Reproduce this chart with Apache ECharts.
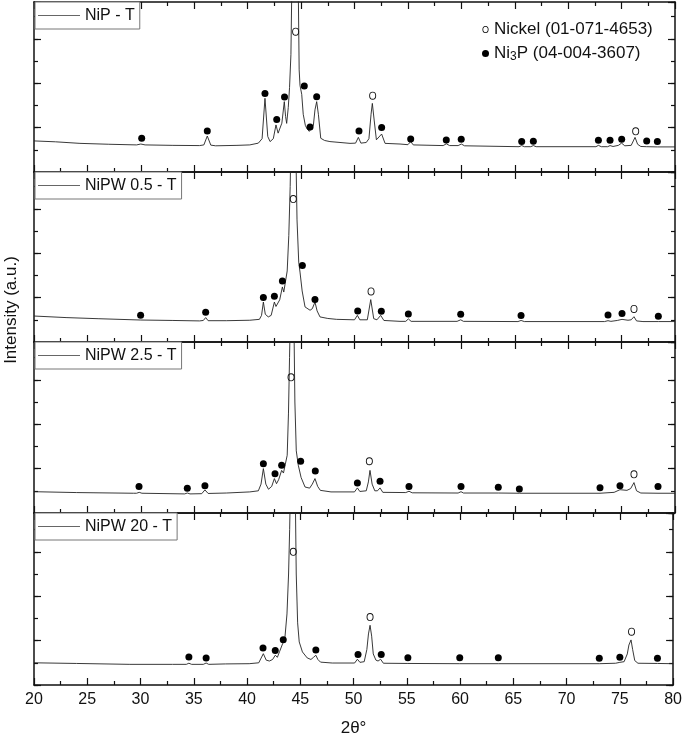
<!DOCTYPE html>
<html>
<head>
<meta charset="utf-8">
<script src="https://cdn.jsdelivr.net/npm/echarts@6/dist/echarts.min.js"></script>
<style>
  html, body { margin: 0; padding: 0; background: #fff; }
  #xrdChart { width: 685px; height: 738px; }
</style>
</head>
<body>
<div id="xrdChart"></div>
<script>
// sample names, top to bottom
var sampleNames = ['NiP - T', 'NiPW 0.5 - T', 'NiPW 2.5 - T', 'NiPW 20 - T'];
var xTicks = [20, 25, 30, 35, 40, 45, 50, 55, 60, 65, 70, 75, 80];

// diffractograms: [2theta, intensity a.u.]
var nipT = [[20,1.40],[22,1.36],[24.3,1.29],[27,1.25],[29.6,1.22],[30.0,1.26],[30.4,1.22],[33,1.20],[35.5,1.19],[35.9,1.22],[36.22,1.62],[36.55,1.21],[37,1.18],[39,1.20],[40.2,1.22],[41.0,1.30],[41.35,1.5],[41.62,3.32],[41.88,1.6],[42.1,1.37],[42.4,1.5],[42.65,2.12],[42.85,1.75],[43.03,1.67],[43.2,2.2],[43.43,3.17],[43.55,2.5],[43.65,2.19],[43.8,2.9],[43.92,3.8],[44.05,5.3],[44.15,9],[44.43,30],[44.72,9],[44.82,4.6],[44.9,3.9],[45.06,3.5],[45.2,2.6],[45.4,2.1],[45.55,1.95],[45.77,1.83],[45.95,1.8],[46.15,2.1],[46.3,2.8],[46.46,3.17],[46.62,2.6],[46.84,1.52],[47.2,1.42],[47.7,1.37],[49.58,1.29],[50.1,1.3],[50.36,1.56],[50.6,1.3],[51.1,1.33],[51.35,1.5],[51.55,2.6],[51.67,3.09],[51.85,2.3],[52.05,1.45],[52.2,1.4],[52.54,1.71],[52.86,1.29],[54.26,1.26],[55.0,1.23],[55.26,1.37],[55.5,1.22],[58.3,1.19],[58.6,1.27],[58.9,1.19],[59.7,1.19],[60.0,1.26],[60.3,1.18],[65.4,1.14],[65.65,1.19],[65.9,1.14],[66.5,1.14],[66.74,1.19],[67,1.14],[72.6,1.14],[72.83,1.2],[73.1,1.14],[73.7,1.14],[73.92,1.19],[74.2,1.15],[74.7,1.2],[75.0,1.3],[75.3,1.18],[75.9,1.2],[76.1,1.4],[76.26,1.56],[76.5,1.25],[76.8,1.15],[77.35,1.14],[78.35,1.13],[80,1.13]];
var nipw05T = [[20,1.17],[23,1.10],[26,1.05],[30,0.99],[33,0.97],[35.5,0.95],[35.85,0.97],[36.07,1.10],[36.3,0.96],[38,0.96],[40.2,0.98],[41.1,1.02],[41.3,1.2],[41.47,1.80],[41.65,1.25],[41.93,1.13],[42.2,1.2],[42.5,1.80],[42.65,1.6],[42.78,1.53],[43.0,1.9],[43.25,2.48],[43.38,2.25],[43.5,2.18],[43.7,3.2],[43.85,4.8],[43.98,7.0],[44.05,9],[44.25,35],[44.5,9],[44.62,5.5],[44.78,3.6],[44.9,3.15],[45.1,2.3],[45.37,1.58],[45.84,1.43],[46.05,1.5],[46.3,1.80],[46.5,1.4],[46.77,1.13],[47.5,1.06],[48.33,1.02],[50.0,1.0],[50.27,1.20],[50.5,1.0],[51.2,1.0],[51.52,1.91],[51.8,1.05],[52.1,1.0],[52.45,1.20],[52.75,0.97],[54.26,0.93],[54.8,0.93],[55.04,1.04],[55.3,0.93],[59.6,0.93],[59.94,1.0],[60.2,0.93],[65.3,0.92],[65.59,0.97],[65.9,0.92],[73.4,0.92],[73.73,0.96],[74.0,0.93],[74.6,0.97],[75.04,1.02],[75.6,0.98],[75.9,1.0],[76.16,1.14],[76.4,0.95],[77,0.92],[78.44,0.92],[80,0.92]];
var nipw25T = [[20,0.96],[24,0.92],[29.3,0.89],[29.6,0.89],[29.85,0.93],[30.1,0.89],[34.1,0.86],[34.35,0.9],[34.6,0.86],[35.7,0.87],[36.0,1.04],[36.3,0.88],[38,0.9],[40.2,0.95],[41.0,1.0],[41.25,1.3],[41.47,2.00],[41.7,1.3],[41.95,1.07],[42.25,1.2],[42.5,1.55],[42.7,1.32],[42.9,1.5],[43.18,1.92],[43.35,1.8],[43.5,1.77],[43.7,2.6],[43.82,4.5],[43.92,7.0],[44.0,9],[44.12,35],[44.32,9],[44.42,5.0],[44.55,2.8],[44.74,2.15],[45.0,1.6],[45.37,1.17],[45.8,1.12],[46.05,1.3],[46.3,1.55],[46.55,1.2],[46.8,1.02],[47.8,0.95],[50.0,0.95],[50.27,1.13],[50.5,0.97],[51.1,1.0],[51.3,1.4],[51.45,1.92],[51.65,1.3],[51.9,1.0],[52.15,1.0],[52.39,1.13],[52.65,0.93],[54.8,0.92],[55.1,0.98],[55.4,0.91],[59.7,0.9],[59.97,0.96],[60.2,0.9],[63.46,0.9],[65.43,0.89],[72.98,0.89],[74.3,0.93],[74.85,1.05],[75.5,1.02],[75.85,1.1],[76.16,1.37],[76.4,1.0],[76.8,0.9],[78.41,0.89],[80,0.89]];
var nipw20T = [[20,1.0],[24,0.97],[29,0.93],[33,0.93],[34.3,0.93],[34.54,0.98],[34.8,0.93],[35.9,0.93],[36.16,0.99],[36.4,0.93],[38,0.95],[40.2,0.96],[41.1,1.0],[41.53,1.41],[41.8,1.12],[42.1,1.08],[42.4,1.15],[42.65,1.34],[42.85,1.25],[43.05,1.5],[43.34,1.86],[43.55,2.1],[43.75,3.2],[43.9,5.0],[44.0,7.0],[44.08,9],[44.3,40],[44.52,9],[44.62,5.0],[44.75,2.8],[44.9,1.94],[45.2,1.49],[45.65,1.22],[46.0,1.15],[46.25,1.25],[46.46,1.34],[46.65,1.15],[46.9,1.03],[48,0.99],[50.1,0.99],[50.36,1.16],[50.6,1.02],[51.0,1.05],[51.25,1.6],[51.4,2.3],[51.55,2.69],[51.7,2.2],[51.85,1.4],[52.1,1.12],[52.3,1.08],[52.54,1.16],[52.8,0.98],[55.1,0.97],[59.97,0.96],[63.59,0.96],[73.07,0.96],[74.6,0.98],[75.0,1.02],[75.4,1.05],[75.7,1.4],[75.85,1.8],[76.05,2.03],[76.2,1.6],[76.4,1.1],[76.7,0.98],[78.53,0.97],[80,0.96]];

// phase markers: Nickel (open) and Ni3P (filled), [2theta, height]
var nickelMarks = [
  [[44.49,6.32],[51.7,3.44],[76.32,1.83]],
  [[44.27,6.44],[51.55,2.28],[76.16,1.49]],
  [[44.06,6.11],[51.39,2.33],[76.16,1.74]],
  [[44.34,6.0],[51.55,3.06],[76.1,2.4]]
];
var ni3pMarks = [
  [[30.08,1.52],[36.22,1.85],[41.62,3.54],[42.72,2.37],[43.45,3.38],[45.3,3.87],[45.84,2.03],[46.46,3.39],[50.42,1.85],[52.54,2.01],[55.26,1.49],[58.59,1.44],[59.99,1.47],[65.65,1.37],[66.74,1.39],[72.83,1.43],[73.92,1.43],[75.01,1.47],[77.35,1.40],[78.35,1.37]],
  [[29.98,1.20],[36.07,1.34],[41.47,2.01],[42.5,2.06],[43.25,2.75],[45.12,3.45],[46.3,1.91],[50.3,1.40],[52.51,1.38],[55.04,1.26],[59.94,1.25],[65.59,1.19],[73.73,1.22],[75.04,1.28],[78.44,1.16]],
  [[29.83,1.19],[34.35,1.11],[36.0,1.23],[41.47,2.22],[42.56,1.77],[43.18,2.15],[44.96,2.33],[46.33,1.89],[50.27,1.35],[52.39,1.43],[55.1,1.19],[59.97,1.19],[63.46,1.16],[65.43,1.08],[72.98,1.14],[74.85,1.23],[78.41,1.19]],
  [[34.54,1.26],[36.16,1.22],[41.5,1.67],[42.65,1.55],[43.4,2.04],[46.46,1.58],[50.42,1.37],[52.6,1.37],[55.1,1.23],[59.97,1.23],[63.59,1.23],[73.07,1.2],[75.0,1.25],[78.53,1.2]]
];
var nickelName = 'Nickel (01-071-4653)';
var ni3pName = 'Ni3P (04-004-3607)';

var curves = [nipT, nipw05T, nipw25T, nipw20T];
var panelTop = [2, 172, 342, 513];
var panelH = [170, 170, 171, 172];
var pxPerUnit = 22.2;
var font = 'Liberation Sans, Arial, sans-serif';
// thin "o" ring (outer and inner ellipse, opposite winding)
var ringIcon = 'path://M0,-40 A35,40 0 1,1 0,40 A35,40 0 1,1 0,-40 Z M0,-31 A26,31 0 1,0 0,31 A26,31 0 1,0 0,-31 Z';

var myChart = echarts.init(document.getElementById('xrdChart'));

var grids = [], xAxes = [], yAxes = [], series = [], legends = [];
for (var i = 0; i < 4; i++) {
  var last = (i === 3);
  var ymax = panelH[i] / pxPerUnit;
  grids.push({ left: 34, right: 10, top: panelTop[i], height: panelH[i] });

  // bottom and top x axes, ticks pointing in
  ['bottom', 'top'].forEach(function (pos) {
    var showLab = last && pos === 'bottom';
    xAxes.push({
      type: 'value', gridIndex: i, position: pos, min: 20, max: 80, interval: 5,
      axisLine: { show: true, onZero: false, lineStyle: { color: '#111', width: 1.5 } },
      axisTick: { show: true, inside: true, length: 7, lineStyle: { color: '#111', width: 1.2 } },
      minorTick: { show: true, splitNumber: 2, length: 4, lineStyle: { color: '#111', width: 1.2 } },
      splitLine: { show: false },
      axisLabel: { show: showLab, margin: 7, fontSize: 16, color: '#111', fontFamily: font,
        formatter: function (v) { return xTicks.indexOf(v) >= 0 ? String(v) : ''; } },
      name: showLab ? '2θ°' : '', nameLocation: 'middle', nameGap: 35,
      nameTextStyle: { fontSize: 17, color: '#111', fontFamily: font }
    });
  });

  // left/right y axes: short ticks every unit, long ticks every two
  ['left', 'right'].forEach(function (pos) {
    yAxes.push({
      type: 'value', gridIndex: i, position: pos, min: 0, max: ymax, interval: 1,
      axisLine: { show: true, onZero: false, lineStyle: { color: '#111', width: 1.5 } },
      axisTick: { show: true, inside: true, length: 4, lineStyle: { color: '#111', width: 1.2 } },
      axisLabel: { show: false }, splitLine: { show: false }
    });
    yAxes.push({
      type: 'value', gridIndex: i, position: pos, min: 0, max: ymax, interval: 2,
      axisLine: { show: false },
      axisTick: { show: true, inside: true, length: 7, lineStyle: { color: '#111', width: 1.2 } },
      axisLabel: { show: false }, splitLine: { show: false }
    });
  });

  series.push({
    name: sampleNames[i], type: 'line', xAxisIndex: i * 2, yAxisIndex: i * 4,
    data: curves[i], symbol: 'none', clip: true, silent: true,
    itemStyle: { color: '#555' },
    lineStyle: { color: '#222', width: 0.9 }, z: 2
  });
  series.push({
    name: ni3pName, type: 'scatter', xAxisIndex: i * 2, yAxisIndex: i * 4,
    data: ni3pMarks[i], symbol: 'circle', symbolSize: 7,
    itemStyle: { color: '#000', opacity: 1 }, z: 3
  });
  series.push({
    name: nickelName, type: 'scatter', xAxisIndex: i * 2, yAxisIndex: i * 4,
    data: nickelMarks[i], symbol: ringIcon, symbolSize: [7, 8],
    itemStyle: { color: '#111', opacity: 1 }, z: 3
  });

  legends.push({
    data: [{ name: sampleNames[i], icon: 'rect' }], left: 35, top: panelTop[i], orient: 'horizontal',
    itemWidth: 42, itemHeight: 1, padding: [4, 5, 4, 3],
    borderColor: '#777', borderWidth: 1, backgroundColor: '#fff',
    itemStyle: { color: '#666' },
    textStyle: { fontSize: 16, color: '#111', fontFamily: font, lineHeight: 19 },
    selectedMode: false
  });
}

// phase key in the first panel
legends.push({
  data: [{ name: nickelName, icon: ringIcon }, { name: ni3pName, icon: 'circle' }],
  orient: 'vertical', left: 477, top: 15, itemWidth: 7, itemHeight: 7, itemGap: 4,
  selectedMode: false,
  itemStyle: { color: '#000', opacity: 1 },
  textStyle: { fontSize: 17, color: '#111', fontFamily: font, lineHeight: 19,
    rich: {
      t: { fontSize: 17, color: '#111', fontFamily: font, lineHeight: 19 },
      s: { fontSize: 12, color: '#111', fontFamily: font, lineHeight: 19, verticalAlign: 'bottom', padding: [8, 0, 0, 0] }
    } },
  formatter: function (name) {
    if (name === ni3pName) return '{t|Ni}{s|3}{t|P (04-004-3607)}';
    return '{t|' + name + '}';
  }
});

myChart.setOption({
  animation: false,
  grid: grids,
  xAxis: xAxes,
  yAxis: yAxes,
  legend: legends,
  series: series,
  graphic: [{
    type: 'text', x: 11, y: 310, rotation: Math.PI / 2,
    style: { text: 'Intensity (a.u.)', x: 0, y: 0, align: 'center', verticalAlign: 'middle',
      textAlign: 'center', textVerticalAlign: 'middle', fontSize: 17, fill: '#111', fontFamily: font }
  }]
});
</script>
</body>
</html>
